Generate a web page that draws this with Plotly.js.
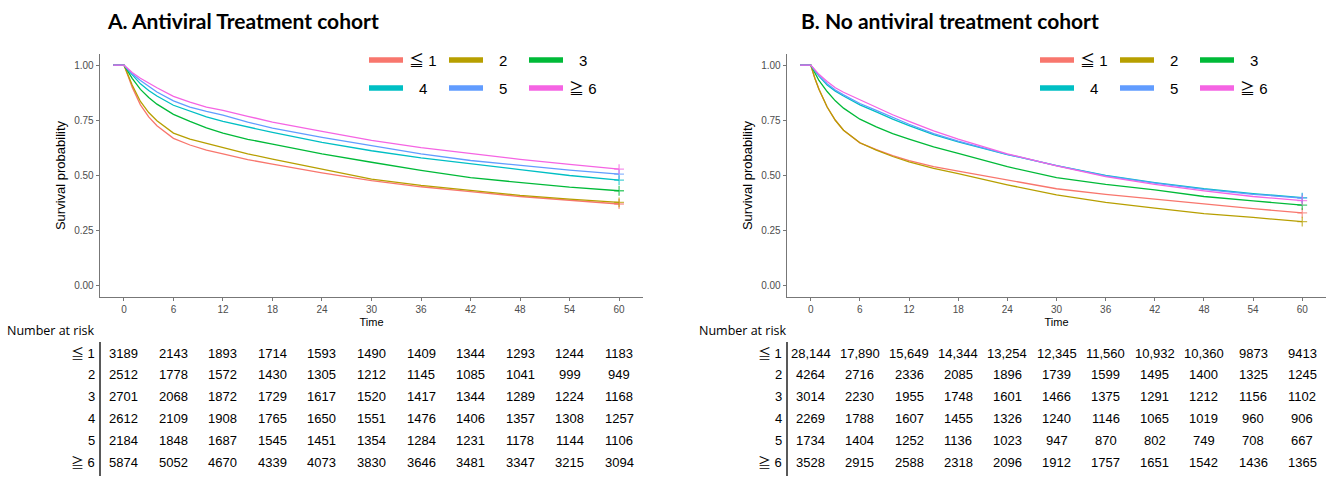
<!DOCTYPE html>
<html>
<head>
<meta charset="utf-8">
<script src="https://cdn.plot.ly/plotly-3.0.1.min.js"></script>
<style>html,body{margin:0;padding:0;background:#fff}#chart{width:1336px;height:480px}</style>
</head>
<body>
<div id="chart"></div>
<script>
// ---------- DATA ----------
const groups = ['≦ 1', '2', '3', '4', '5', '≧ 6'];
const colors = ['#F8766D', '#B79F00', '#00BA38', '#00BFC4', '#619CFF', '#F564E3'];

const times = [-1.3, 0, 0.5, 1, 2, 3, 4, 6, 8, 10, 12, 15, 18, 24, 30, 36, 42, 48, 54, 60];

// A. Antiviral treatment cohort – survival probability
const survA1 = [1, 1, 0.95, 0.90, 0.82, 0.765, 0.725, 0.668, 0.638, 0.615, 0.598, 0.572, 0.551, 0.512, 0.477, 0.449, 0.427, 0.405, 0.388, 0.371];
const survA2 = [1, 1, 0.955, 0.91, 0.835, 0.785, 0.748, 0.692, 0.665, 0.645, 0.627, 0.598, 0.574, 0.529, 0.484, 0.455, 0.431, 0.410, 0.393, 0.378];
const survA3 = [1, 1, 0.97, 0.94, 0.89, 0.853, 0.823, 0.777, 0.745, 0.716, 0.692, 0.664, 0.642, 0.598, 0.560, 0.523, 0.490, 0.468, 0.447, 0.431];
const survA4 = [1, 1, 0.977, 0.955, 0.915, 0.885, 0.86, 0.818, 0.79, 0.765, 0.745, 0.72, 0.695, 0.650, 0.612, 0.580, 0.552, 0.527, 0.500, 0.479];
const survA5 = [1, 1, 0.98, 0.96, 0.93, 0.903, 0.878, 0.838, 0.81, 0.79, 0.773, 0.742, 0.714, 0.673, 0.635, 0.598, 0.568, 0.545, 0.524, 0.506];
const survA6 = [1, 1, 0.983, 0.966, 0.94, 0.917, 0.897, 0.858, 0.832, 0.81, 0.795, 0.768, 0.742, 0.700, 0.659, 0.626, 0.598, 0.573, 0.550, 0.529];

// B. No antiviral treatment cohort – survival probability
const survB1 = [1, 1, 0.94, 0.89, 0.81, 0.75, 0.705, 0.648, 0.617, 0.59, 0.567, 0.54, 0.52, 0.48, 0.44, 0.415, 0.393, 0.37, 0.35, 0.331];
const survB2 = [1, 1, 0.94, 0.89, 0.81, 0.75, 0.705, 0.648, 0.615, 0.586, 0.562, 0.532, 0.508, 0.458, 0.412, 0.378, 0.352, 0.327, 0.31, 0.291];
const survB3 = [1, 1, 0.965, 0.93, 0.88, 0.838, 0.805, 0.755, 0.72, 0.69, 0.665, 0.63, 0.60, 0.54, 0.49, 0.46, 0.435, 0.405, 0.385, 0.366];
const survB4 = [1, 1, 0.975, 0.95, 0.91, 0.882, 0.86, 0.82, 0.788, 0.755, 0.726, 0.685, 0.652, 0.595, 0.545, 0.500, 0.468, 0.440, 0.418, 0.400];
const survB5 = [1, 1, 0.975, 0.952, 0.915, 0.887, 0.865, 0.826, 0.795, 0.762, 0.732, 0.69, 0.656, 0.596, 0.545, 0.498, 0.465, 0.437, 0.415, 0.398];
const survB6 = [1, 1, 0.979, 0.958, 0.925, 0.897, 0.877, 0.842, 0.81, 0.775, 0.745, 0.702, 0.665, 0.598, 0.544, 0.495, 0.46, 0.43, 0.405, 0.386];

// Number at risk
const riskTimes = [0, 6, 12, 18, 24, 30, 36, 42, 48, 54, 60];
const riskA1 = [3189, 2143, 1893, 1714, 1593, 1490, 1409, 1344, 1293, 1244, 1183];
const riskA2 = [2512, 1778, 1572, 1430, 1305, 1212, 1145, 1085, 1041, 999, 949];
const riskA3 = [2701, 2068, 1872, 1729, 1617, 1520, 1417, 1344, 1289, 1224, 1168];
const riskA4 = [2612, 2109, 1908, 1765, 1650, 1551, 1476, 1406, 1357, 1308, 1257];
const riskA5 = [2184, 1848, 1687, 1545, 1451, 1354, 1284, 1231, 1178, 1144, 1106];
const riskA6 = [5874, 5052, 4670, 4339, 4073, 3830, 3646, 3481, 3347, 3215, 3094];

const riskB1 = [28144, 17890, 15649, 14344, 13254, 12345, 11560, 10932, 10360, 9873, 9413];
const riskB2 = [4264, 2716, 2336, 2085, 1896, 1739, 1599, 1495, 1400, 1325, 1245];
const riskB3 = [3014, 2230, 1955, 1748, 1601, 1466, 1375, 1291, 1212, 1156, 1102];
const riskB4 = [2269, 1788, 1607, 1455, 1326, 1240, 1146, 1065, 1019, 960, 906];
const riskB5 = [1734, 1404, 1252, 1136, 1023, 947, 870, 802, 749, 708, 667];
const riskB6 = [3528, 2915, 2588, 2318, 2096, 1912, 1757, 1651, 1542, 1436, 1365];

const titleA = 'A. Antiviral Treatment cohort';
const titleB = 'B. No antiviral treatment cohort';

// ---------- BUILD ----------
const W = 1336, H = 480;
const px = v => v / W;
const py = v => 1 - v / H;

const survA = [survA1, survA2, survA3, survA4, survA5, survA6];
const survB = [survB1, survB2, survB3, survB4, survB5, survB6];
const riskA = [riskA1, riskA2, riskA3, riskA4, riskA5, riskA6];
const riskB = [riskB1, riskB2, riskB3, riskB4, riskB5, riskB6];

const panels = [
  {surv: survA, risk: riskA, xa: 'x', ya: 'y', title: titleA, left: 100, titleX: 105, legX: 369, nar: 5},
  {surv: survB, risk: riskB, xa: 'x2', ya: 'y2', title: titleB, left: 787, titleX: 799, legX: 1040, nar: 697}
];

const traces = [];
const annotations = [];
const shapes = [];
const numFont = 'Liberation Sans, Arial, Noto Sans CJK SC, sans-serif';
const rowY = [353, 374.8, 396.6, 418.4, 440.2, 462];

function fmt(n) {
  return n >= 10000 ? n.toLocaleString('en-US') : String(n);
}

panels.forEach((p) => {
  p.surv.forEach((s, gi) => {
    const sizes = s.map((v, i) => i === s.length - 1 ? 7 : 0);
    traces.push({
      x: times, y: s, xaxis: p.xa, yaxis: p.ya, type: 'scatter', mode: 'lines+markers',
      name: groups[gi], showlegend: false,
      line: {color: colors[gi], width: 1.3},
      marker: {symbol: 'cross-thin', size: sizes, color: colors[gi], line: {color: colors[gi], width: 1.3}},
      hoverinfo: 'skip'
    });
  });

  // title
  annotations.push({text: '<b>' + p.title + '</b>', xref: 'paper', yref: 'paper', x: px(p.titleX), y: py(21),
    xanchor: 'left', yanchor: 'middle', showarrow: false,
    font: {family: 'Lato, Open Sans, sans-serif', size: 21, color: '#000'}});

  // legend (keys + labels)
  groups.forEach((g, gi) => {
    const col = gi % 3, row = Math.floor(gi / 3);
    const x0 = p.legX + col * 80;
    const yy = 60 + row * 28;
    shapes.push({type: 'line', xref: 'paper', yref: 'paper', x0: px(x0), x1: px(x0 + 34), y0: py(yy), y1: py(yy),
      line: {color: colors[gi], width: 5.5}});
    annotations.push({text: g, xref: 'paper', yref: 'paper', x: px(x0 + 54), y: py(yy),
      xanchor: 'center', yanchor: 'middle', showarrow: false,
      font: {family: 'Liberation Sans, Arial, Noto Sans CJK SC, sans-serif', size: 15, color: '#000'}});
  });

  // Number at risk heading
  annotations.push({text: 'Number at risk', xref: 'paper', yref: 'paper', x: px(p.nar), y: py(330),
    xanchor: 'left', yanchor: 'middle', showarrow: false,
    font: {family: 'Open Sans, Noto Sans, sans-serif', size: 12.5, color: '#000'}});

  // table rows
  p.risk.forEach((r, gi) => {
    annotations.push({text: groups[gi], xref: 'paper', yref: 'paper', x: px(p.left - 3), y: py(rowY[gi]),
      xanchor: 'right', yanchor: 'middle', showarrow: false,
      font: {family: numFont, size: 13, color: '#000'}});
    r.forEach((n, ti) => {
      annotations.push({text: fmt(n), xref: p.xa, yref: 'paper', x: riskTimes[ti], y: py(rowY[gi]),
        xanchor: 'center', yanchor: 'middle', showarrow: false,
        font: {family: numFont, size: 13, color: '#000'}});
    });
  });
  shapes.push({type: 'line', xref: 'paper', yref: 'paper', x0: px(p.left), x1: px(p.left), y0: py(342), y1: py(476),
    line: {color: '#222', width: 1.5}});
});

const axisBase = {
  showline: true, linecolor: '#777', linewidth: 1.3, showgrid: false, zeroline: false,
  ticks: 'outside', ticklen: 3, tickcolor: '#777', tickwidth: 1,
  tickfont: {family: 'Liberation Sans, Arial, sans-serif', size: 10, color: '#4d4d4d'}
};
function xaxis(domain, anchor) {
  return Object.assign({}, axisBase, {domain: domain, anchor: anchor, range: [-2.9, 62.9],
    tickvals: riskTimes, ticktext: riskTimes.map(String),
    title: {text: 'Time', font: {family: 'Liberation Sans, Arial, sans-serif', size: 11, color: '#000'}, standoff: 4}});
}
function yaxis(domain, anchor) {
  return Object.assign({}, axisBase, {domain: domain, anchor: anchor, range: [-0.05, 1.05],
    tickvals: [0, 0.25, 0.5, 0.75, 1], ticktext: ['0.00', '0.25', '0.50', '0.75', '1.00'],
    title: {text: 'Survival probability', font: {family: 'Liberation Sans, Arial, sans-serif', size: 13, color: '#000'}, standoff: 5}});
}

const yDom = [py(297), py(54)];
const layout = {
  width: W, height: H, margin: {l: 0, r: 0, t: 0, b: 0},
  paper_bgcolor: '#fff', plot_bgcolor: '#fff', showlegend: false,
  xaxis: xaxis([px(100), px(643)], 'y'),
  yaxis: yaxis(yDom, 'x'),
  xaxis2: xaxis([px(787), px(1326)], 'y2'),
  yaxis2: yaxis(yDom, 'x2'),
  annotations: annotations,
  shapes: shapes
};

Plotly.newPlot('chart', traces, layout, {displayModeBar: false, staticPlot: true});
</script>
</body>
</html>
